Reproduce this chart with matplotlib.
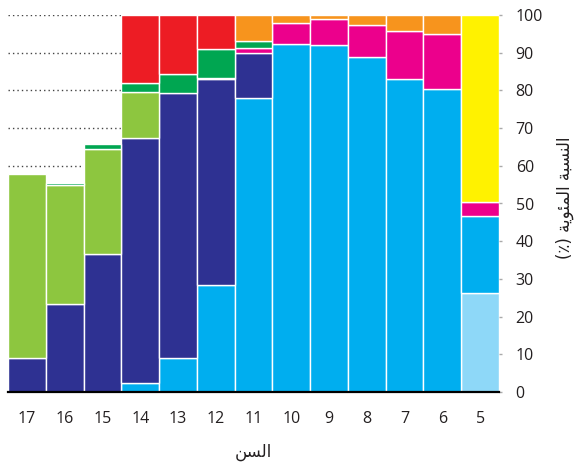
import matplotlib
matplotlib.use("Agg")
import matplotlib.pyplot as plt
import numpy as np

ages = ["17", "16", "15", "14", "13", "12", "11", "10", "9", "8", "7", "6", "5"]

light_cyan = [0, 0, 0, 0, 0, 0, 0, 0, 0, 0, 0, 0, 26.2]
cyan = [0, 0, 0, 2.3, 8.9, 28.3, 77.9, 92.4, 92.0, 88.9, 82.9, 80.5, 20.6]
navy = [9.1, 23.3, 36.6, 65.2, 70.4, 54.6, 11.9, 0, 0, 0, 0, 0, 0]
light_green = [48.7, 31.6, 27.8, 12.0, 0, 0, 0, 0, 0, 0, 0, 0, 0]
magenta = [0, 0, 0, 0, 0, 0.5, 1.4, 5.6, 7.0, 8.4, 12.9, 14.5, 3.6]
dark_green = [0, 0.5, 1.3, 2.5, 5.1, 7.7, 2.0, 0, 0, 0, 0, 0, 0]
red = [0, 0, 0, 18.0, 15.6, 8.9, 0, 0, 0, 0, 0, 0, 0]
orange = [0, 0, 0, 0, 0, 0, 6.8, 2.0, 1.0, 2.7, 4.2, 5.0, 0]
yellow = [0, 0, 0, 0, 0, 0, 0, 0, 0, 0, 0, 0, 49.6]

series = [
    (light_cyan, "#8ED8F8"),
    (cyan, "#00AEEF"),
    (navy, "#2E3192"),
    (light_green, "#8DC63F"),
    (magenta, "#EC008C"),
    (dark_green, "#00A651"),
    (red, "#ED1C24"),
    (orange, "#F7941D"),
    (yellow, "#FFF200"),
]

fam = ["Open Sans", "DejaVu Sans"]
plt.rcParams["font.family"] = fam

fig = plt.figure(figsize=(5.76, 4.65), dpi=100)
ax = fig.add_axes([8 / 576, 73 / 465, 491 / 576, 377 / 465])

x = np.arange(len(ages))
bottom = np.zeros(len(ages))
for vals, col in series:
    v = np.array(vals, dtype=float)
    m = v > 0
    ax.bar(x[m], v[m], bottom=bottom[m], width=1.0, color=col,
           edgecolor="white", linewidth=1.0, zorder=3)
    bottom += v

ax.set_xlim(-0.5, len(ages) - 0.5)
ax.set_ylim(0, 100)
ax.set_yticks(np.arange(0, 101, 10))
ax.yaxis.tick_right()
ax.set_xticks(x)
ax.set_xticklabels(ages)
ax.tick_params(axis="x", length=0, pad=14, labelsize=11.5, colors="#231F20")
ax.tick_params(axis="y", length=2, width=1, color="#aaaaaa", pad=10,
               labelsize=11.5, labelcolor="#231F20")

ax.grid(axis="y", linestyle=(0, (1, 2.2)), color="#444444", linewidth=1, zorder=0)
ax.set_axisbelow(True)

for s in ["top", "left", "right"]:
    ax.spines[s].set_visible(False)
ax.spines["bottom"].set_linewidth(1.6)
ax.spines["bottom"].set_color("black")
ax.spines["bottom"].set_zorder(4)

# Arabic labels (pre-shaped presentation forms, visual order)
xlabel = "\uFEE6\uFEB4\uFEDF\uFE8D"  # السن
word1 = "\uFE94\uFE92\uFEB4\uFEE8\uFEDF\uFE8D"  # النسبة
word2 = "\uFE94\uFEF3\uFEEE\uFE8C\uFEE4\uFEDF\uFE8D"  # المئوية
ylabel = "(\u066A) " + word2 + " " + word1

fig.text(253 / 576, 1 - 452 / 465, xlabel, ha="center", va="center",
         fontsize=12, family=["DejaVu Sans"], color="#231F20")
fig.text(565 / 576, 1 - 198 / 465, ylabel, ha="center", va="center",
         rotation=90, fontsize=12, family=["DejaVu Sans"], color="#231F20")

fig.savefig("out.png", dpi=100)
